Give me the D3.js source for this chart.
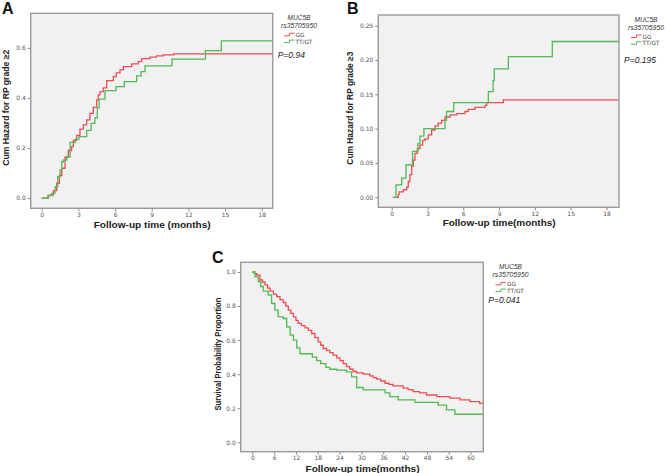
<!DOCTYPE html>
<html>
<head>
<meta charset="utf-8">
<script src="https://cdn.jsdelivr.net/npm/d3@7"></script>
<style>
body { margin: 0; background: #fff; }
svg text { font-family: "Liberation Sans", Arial, sans-serif; }
</style>
</head>
<body>
<script>
// Panel A: cumulative hazard, RP grade >=2  [months, hazard]
var aGG = [[0,0],[0.54,0.012],[0.95,0.03],[1.23,0.059],[1.45,0.09],[1.64,0.119],[1.91,0.163],[2.18,0.19],
    [2.45,0.205],[2.59,0.23],[2.86,0.25],[3.13,0.275],[3.41,0.292],[3.68,0.312],[3.95,0.338],[4.22,0.362],
    [4.5,0.392],[4.63,0.412],[4.77,0.425],[5.04,0.44],[5.32,0.469],[5.86,0.485],[6.1,0.5],[6.41,0.512],
    [6.68,0.525],[7.36,0.536],[7.9,0.545],[8.18,0.557],[8.86,0.563],[9.4,0.568],[9.95,0.572],[10.8,0.576],[18.9,0.576]];
var aTT = [[0,0],[0.5,0.01],[0.82,0.019],[1.09,0.045],[1.31,0.085],[1.5,0.112],[1.64,0.145],[1.77,0.152],
    [2.05,0.165],[2.32,0.222],[2.75,0.235],[3.05,0.245],[3.68,0.27],[4.05,0.298],[4.35,0.32],[4.55,0.36],
    [4.7,0.395],[5.18,0.429],[6.08,0.445],[6.76,0.465],[7.77,0.488],[8.13,0.505],[8.45,0.528],[10.66,0.555],
    [13.4,0.589],[14.7,0.628],[18.9,0.628]];

// Panel B: cumulative hazard, RP grade >=3
var bGG = [[0.15,0],[0.55,0.004],[0.62,0.008],[0.98,0.011],[1.26,0.015],[1.39,0.023],[1.53,0.033],[1.68,0.045],
    [1.81,0.054],[1.95,0.064],[2.15,0.071],[2.37,0.076],[2.6,0.083],[2.79,0.085],[3.07,0.091],[3.35,0.098],
    [3.63,0.104],[3.9,0.108],[4.19,0.112],[4.47,0.117],[4.89,0.12],[5.45,0.122],[6.14,0.125],[6.42,0.128],
    [6.98,0.131],[7.82,0.134],[7.96,0.138],[9.36,0.142],[19.05,0.142]];
var bTT = [[0.1,0],[0.36,0.018],[0.84,0.028],[1.2,0.047],[1.75,0.067],[2.2,0.078],[2.37,0.089],[2.7,0.1],
    [4.47,0.112],[4.6,0.125],[5.2,0.138],[8.1,0.154],[8.5,0.17],[8.6,0.187],[9.78,0.205],[13.46,0.227],[19.05,0.227]];

// Panel C: survival probability
var cGG = [[0,1],[0.6,0.99],[1.2,0.982],[2.1,0.953],[2.8,0.94],[3.5,0.924],[4.2,0.905],[4.9,0.888],[5.8,0.87],
    [6.7,0.855],[7.6,0.838],[8.5,0.821],[9.2,0.8],[9.9,0.776],[10.6,0.757],[11.3,0.737],[12.0,0.716],
    [12.6,0.698],[13.5,0.685],[14.5,0.672],[15.4,0.657],[16.3,0.639],[17.2,0.615],[18.1,0.59],[18.8,0.57],
    [19.5,0.551],[20.4,0.54],[21.3,0.527],[22.2,0.512],[23.2,0.496],[24.1,0.48],[25,0.462],[25.9,0.445],
    [26.8,0.429],[27.7,0.416],[28.7,0.408],[30.5,0.4],[32.3,0.39],[33.2,0.38],[34.2,0.371],[35.3,0.36],
    [36.5,0.347],[37.6,0.34],[38.7,0.331],[41.5,0.318],[42.8,0.31],[44.2,0.298],[46,0.29],[47.9,0.278],
    [50.7,0.268],[54.3,0.259],[57.1,0.249],[59.8,0.239],[62.5,0.229],[63.5,0.229]];
var cTT = [[0,1],[0.74,0.972],[1.65,0.943],[2.3,0.915],[3.0,0.888],[4.4,0.865],[5.3,0.815],[6.2,0.776],
    [7.1,0.737],[8.5,0.727],[9.45,0.678],[10.4,0.629],[11.3,0.6],[12.2,0.555],[13.1,0.52],[16.5,0.5],
    [17.7,0.48],[18.8,0.462],[20.2,0.44],[21.3,0.429],[23.2,0.424],[25.9,0.414],[27.3,0.384],[28.7,0.322],
    [30.5,0.308],[36.5,0.29],[37.8,0.268],[40.1,0.249],[44.7,0.235],[51.1,0.219],[53.4,0.19],[55.7,0.165],[63.5,0.165]];

// tick labels
var abXTicks = [0, 3, 6, 9, 12, 15, 18];
var aYTicks = [0, 0.2, 0.4, 0.6];
var bYTicks = [0, 0.05, 0.10, 0.15, 0.20, 0.25];
var cXTicks = [0, 6, 12, 18, 24, 30, 36, 42, 48, 54, 60];
var cYTicks = [0, 0.2, 0.4, 0.6, 0.8, 1.0];

var groups = ["GG", "TT/GT"];
var colors = ["#ee4c55", "#52b954"];
var pValues = ["P=0.94", "P=0.195", "P=0.041"];

var width = 670, height = 473;

var svg = d3.select("body").append("svg")
    .attr("width", width)
    .attr("height", height);

var panels = [
    {letter: "A", lx: 2, ly: 14, left: 30.7, top: 13.3, right: 272.7, bottom: 208.3,
     xDomain: [-0.9, 18.9], yDomain: [-0.041, 0.738], xTicks: abXTicks, yTicks: aYTicks, yFmt: ".1f",
     series: [aGG, aTT], p: pValues[0], lc: 299, pTop: 58,
     yTitle: "Cum Hazard for RP grade \u22652", yLen: 116, yTx: 6,
     xTitle: "Follow-up time (months)", xLen: 117, xTy: 227.5},
    {letter: "B", lx: 347, ly: 14, left: 378.3, top: 15, right: 619, bottom: 207.3,
     xDomain: [-1.12, 19.05], yDomain: [-0.0146, 0.2656], xTicks: abXTicks, yTicks: bYTicks, yFmt: ".2f",
     series: [bGG, bTT], p: pValues[1], lc: 646, pTop: 63,
     yTitle: "Cum Hazard for RP grade \u22653", yLen: 113, yTx: 350,
     xTitle: "Follow-up time(months)", xLen: 113, xTy: 226},
    {letter: "C", lx: 212, ly: 262.5, left: 240.7, top: 262.3, right: 483.3, bottom: 451.7,
     xDomain: [-3.19, 63.5], yDomain: [-0.055, 1.057], xTicks: cXTicks, yTicks: cYTicks, yFmt: ".1f",
     series: [cGG, cTT], p: pValues[2], lc: 510.5, pTop: 303,
     yTitle: "Survival Probability Proportion", yLen: 113, yTx: 218,
     xTitle: "Follow-up time(months)", xLen: 114, xTy: 472}
];

function drawPanel(cfg) {
    var x = d3.scaleLinear().domain(cfg.xDomain).range([cfg.left, cfg.right]);
    var y = d3.scaleLinear().domain(cfg.yDomain).range([cfg.bottom, cfg.top]);
    var g = svg.append("g");

    // plot background
    g.append("rect")
        .attr("x", cfg.left).attr("y", cfg.top)
        .attr("width", cfg.right - cfg.left).attr("height", cfg.bottom - cfg.top)
        .attr("fill", "#f1f1f1");

    // axes
    var xAxis = d3.axisBottom(x).tickValues(cfg.xTicks).tickSize(3).tickPadding(1.5).tickFormat(d3.format("d"));
    var gx = g.append("g").attr("transform", "translate(0," + cfg.bottom + ")").call(xAxis);
    var yAxis = d3.axisLeft(y).tickValues(cfg.yTicks).tickSize(3).tickPadding(2).tickFormat(d3.format(cfg.yFmt));
    var gy = g.append("g").attr("transform", "translate(" + cfg.left + ",0)").call(yAxis);
    [gx, gy].forEach(function(a) {
        a.select(".domain").remove();
        a.selectAll("line").attr("stroke", "#888");
        a.selectAll("text").attr("fill", "#555").style("font-size", "6px")
            .style("font-family", "'DejaVu Sans', sans-serif");
    });

    // curves
    var line = d3.line()
        .x(function(d) { return x(d[0]); })
        .y(function(d) { return y(d[1]); })
        .curve(d3.curveStepAfter);
    cfg.series.forEach(function(s, i) {
        g.append("path")
            .datum(s)
            .attr("d", line)
            .attr("fill", "none")
            .attr("stroke", colors[i])
            .attr("stroke-width", 1.3);
    });

    // frame
    g.append("rect")
        .attr("x", cfg.left).attr("y", cfg.top)
        .attr("width", cfg.right - cfg.left).attr("height", cfg.bottom - cfg.top)
        .attr("fill", "none").attr("stroke", "#9a9a9a").attr("stroke-width", 1.4);

    // titles
    var cy = (cfg.top + cfg.bottom) / 2 - 3;
    g.append("text")
        .attr("transform", "translate(" + cfg.yTx + "," + cy + ") rotate(-90)")
        .attr("dy", "0.35em")
        .attr("text-anchor", "middle")
        .attr("textLength", cfg.yLen).attr("lengthAdjust", "spacingAndGlyphs")
        .style("font-size", "8.5px").style("font-weight", "bold").attr("fill", "#222")
        .text(cfg.yTitle);
    g.append("text")
        .attr("x", (cfg.left + cfg.right) / 2 + 0.5).attr("y", cfg.xTy)
        .attr("text-anchor", "middle")
        .attr("textLength", cfg.xLen).attr("lengthAdjust", "spacingAndGlyphs")
        .style("font-size", "9px").style("font-weight", "bold").attr("fill", "#222")
        .text(cfg.xTitle);
    g.append("text")
        .attr("x", cfg.lx).attr("y", cfg.ly)
        .style("font-size", "16px").style("font-weight", "bold").attr("fill", "#111")
        .text(cfg.letter);

    // legend
    var lc = cfg.lc, t = cfg.top;
    var leg = g.append("g").attr("fill", "#333").style("font-style", "italic")
        .style("font-family", "'DejaVu Sans', sans-serif");
    leg.append("text").attr("x", lc).attr("y", t + 7).attr("text-anchor", "middle")
        .style("font-size", "6.5px").text("MUC5B");
    leg.append("text").attr("x", lc).attr("y", t + 14.8).attr("text-anchor", "middle")
        .style("font-size", "6.8px").text("rs35705950");
    groups.forEach(function(name, i) {
        var ly = t + 22.5 + i * 6.8;
        g.append("path")
            .attr("d", "M" + (lc - 15) + "," + ly + "h5.5v-2.5h5")
            .attr("fill", "none").attr("stroke", colors[i]).attr("stroke-width", 1);
        g.append("text").attr("x", lc - 3.5).attr("y", ly + 1)
            .style("font-size", "5.8px").attr("fill", "#444")
            .style("font-family", "'DejaVu Sans', sans-serif").text(name);
    });
    leg.append("text").attr("x", cfg.right + 5).attr("y", cfg.pTop)
        .style("font-size", "8.5px").attr("fill", "#222").text(cfg.p);
}

panels.forEach(drawPanel);
</script>
</body>
</html>
